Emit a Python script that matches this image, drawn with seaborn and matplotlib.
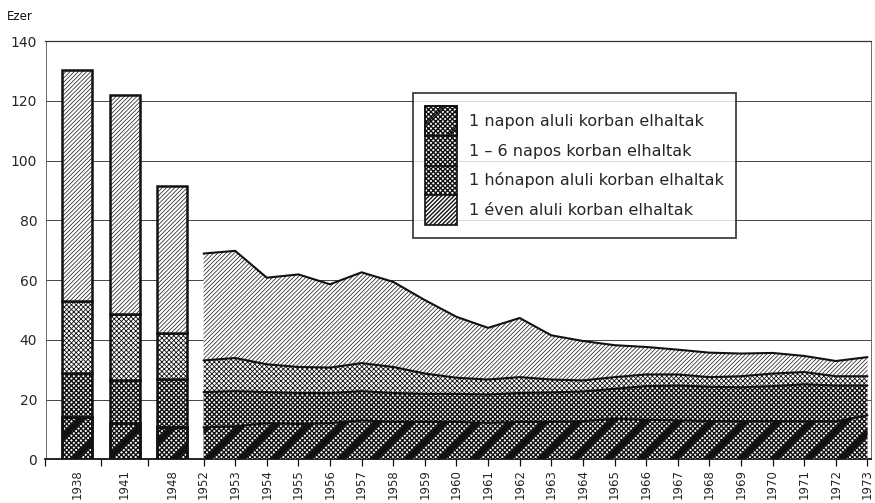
import matplotlib
matplotlib.use('Agg')
import matplotlib.pyplot as plt
from matplotlib.patches import Patch
from matplotlib.legend_handler import HandlerTuple
import seaborn as sns
import numpy as np

# cumulative thousands of infant deaths (Ezer)
bar_years = ['1938', '1941', '1948']
bar_day1 = [14.1, 12.1, 10.7]
bar_day6 = [28.9, 26.4, 27.0]
bar_month1 = [53.0, 48.8, 42.4]
bar_year1 = [130.5, 122.1, 91.6]

area_years = [1952, 1953, 1954, 1955, 1956, 1957, 1958, 1959, 1960, 1961, 1962,
              1963, 1964, 1965, 1966, 1967, 1968, 1969, 1970, 1971, 1972, 1973]
day1 = [10.7, 11.0, 12.1, 11.8, 12.1, 13.0, 12.5, 12.5, 12.5, 12.2, 12.5,
        12.5, 12.7, 13.6, 13.2, 13.0, 12.8, 12.7, 12.8, 12.7, 12.7, 14.7]
day6 = [22.5, 22.8, 22.5, 22.2, 22.2, 22.8, 22.2, 21.9, 21.9, 21.7, 22.2,
        22.4, 22.7, 23.6, 24.5, 24.7, 24.3, 24.1, 24.5, 25.1, 24.7, 24.7]
month1 = [33.1, 33.9, 31.8, 30.9, 30.7, 32.2, 30.9, 28.7, 27.3, 26.7, 27.5,
          26.7, 26.4, 27.5, 28.4, 28.4, 27.5, 27.8, 28.7, 29.2, 27.8, 27.8]
year1 = [68.9, 69.8, 60.8, 61.9, 58.6, 62.6, 59.4, 53.3, 47.7, 44.0, 47.3,
         41.5, 39.6, 38.2, 37.6, 36.7, 35.7, 35.4, 35.6, 34.6, 32.9, 34.2]

labels = ['1 napon aluli korban elhaltak',
          '1 \u2013 6 napos korban elhaltak',
          '1 hónapon aluli korban elhaltak',
          '1 éven aluli korban elhaltak']

sns.set_style('white')
plt.rcParams['font.family'] = ['DejaVu Sans']

INK = '#111111'
HATCH = ['xxxxxxx', 'xxxxxxx', 'xxxxxxx', '////////']
HLW = [1.0, 1.0, 0.6, 0.5]
STRIPE_LW = 4.0

fig = plt.figure(figsize=(8.75, 5.03), dpi=100)
ax = fig.add_axes([0.052, 0.087, 0.943, 0.831])

# x layout: 1952 at 0, bars spread to the left
bar_x = np.array([-4.0, -2.5, -1.0])
area_x = np.array(area_years) - 1952

bar_layers = [bar_day1, bar_day6, bar_month1, bar_year1]
area_layers = [day1, day6, month1, year1]

bottom = np.zeros(3)
for i, layer in enumerate(bar_layers):
    top = np.array(layer)
    with plt.rc_context({'hatch.linewidth': HLW[i]}):
        ax.bar(bar_x, top - bottom, bottom=bottom, width=0.95, color='white',
               hatch=HATCH[i], edgecolor=INK, linewidth=1.8, zorder=3)
    if i == 0:
        with plt.rc_context({'hatch.linewidth': STRIPE_LW}):
            ax.bar(bar_x, top - bottom, bottom=bottom, width=0.95, color='none',
                   hatch='/', edgecolor=INK, linewidth=1.8, zorder=3.5)
    bottom = top

lower = np.zeros(len(area_x))
for i, layer in enumerate(area_layers):
    upper = np.array(layer)
    with plt.rc_context({'hatch.linewidth': HLW[i]}):
        ax.fill_between(area_x, lower, upper, facecolor='white', hatch=HATCH[i],
                        edgecolor=INK, linewidth=0, zorder=3)
    if i == 0:
        with plt.rc_context({'hatch.linewidth': STRIPE_LW}):
            ax.fill_between(area_x, lower, upper, facecolor='none', hatch='/',
                            edgecolor=INK, linewidth=0, zorder=3.5)
    sns.lineplot(x=area_x, y=upper, color=INK, linewidth=1.5, ax=ax, zorder=4)
    lower = upper

ax.set_xlim(-5, 21.1)
ax.set_ylim(0, 140)
ax.set_yticks(range(0, 141, 20))
ax.set_yticklabels([str(v) for v in range(0, 141, 20)], fontsize=10)
ax.yaxis.grid(True, color='#444444', linewidth=0.7)
ax.set_axisbelow(True)

tick_pos = list(bar_x) + list(area_x)
tick_lab = bar_years + [str(y) for y in area_years]
ax.set_xticks(tick_pos)
ax.set_xticklabels(tick_lab, rotation=90, fontsize=8.5)
ax.set_xticks([-5, -3.25, -1.75], minor=True)
ax.tick_params(axis='x', which='both', direction='out', length=5, width=0.9,
               color=INK, bottom=True, pad=2)
ax.tick_params(axis='y', length=0, pad=6)
for t in ax.xaxis.get_major_ticks()[:3]:
    t.tick1line.set_visible(False)

for side in ['left', 'right']:
    ax.spines[side].set_color('#555555')
    ax.spines[side].set_linewidth(0.6)
ax.spines['top'].set_color('#333333')
ax.spines['top'].set_linewidth(0.9)
ax.spines['bottom'].set_color(INK)
ax.spines['bottom'].set_linewidth(1.3)

fig.text(0.008, 0.968, 'Ezer', fontsize=8.5, color=INK, va='center')

handles = []
for i in range(4):
    with plt.rc_context({'hatch.linewidth': HLW[i]}):
        p = Patch(facecolor='white', edgecolor=INK, hatch=HATCH[i],
                  linewidth=1.2, label=labels[i])
    if i == 0:
        with plt.rc_context({'hatch.linewidth': 3.0}):
            s = Patch(facecolor='none', edgecolor=INK, hatch='//', linewidth=1.2)
        handles.append((p, s))
    else:
        handles.append(p)
leg = ax.legend(handles=handles, labels=labels, loc='upper left',
                bbox_to_anchor=(0.445, 0.876),
                handler_map={tuple: HandlerTuple(ndivide=1, pad=0)},
                frameon=True, fancybox=False, edgecolor=INK, fontsize=11.5,
                handlelength=2.0, handleheight=2.5, labelspacing=0.0,
                borderpad=0.8, handletextpad=0.7, borderaxespad=0)
leg.get_frame().set_linewidth(1.3)
leg.set_zorder(6)

fig.savefig('out.png', dpi=100, facecolor='white')
